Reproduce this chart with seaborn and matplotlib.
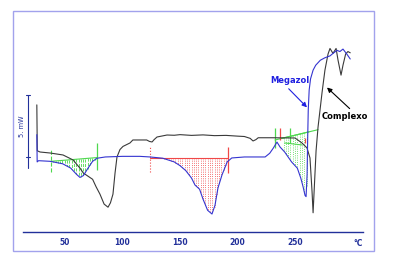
import numpy as np
import matplotlib
matplotlib.use("Agg")
import matplotlib.pyplot as plt
from matplotlib.patches import Rectangle
import seaborn as sns

# DSC curves (temperature in degC, heat flow in mW, zero = scale bar foot)
mega_T = [25.5, 25.8, 27, 37, 48, 55, 60, 63, 66, 70, 74, 78, 85, 100, 115, 124,
          135, 145, 150, 155, 160, 163, 167, 170, 174, 177.8, 180.4, 183, 186.5,
          191, 195, 206, 224, 228, 231, 234.3, 237, 241, 247, 252, 255, 257,
          258.7, 259.6, 260.5, 261, 261.5, 262.3, 263.5, 265.7, 268, 272, 276,
          280.4, 283, 286.5, 289, 291.7, 295, 298]
mega_mW = [1.8, -0.4, -0.3, -0.35, -0.55, -0.9, -1.4, -1.65, -1.5, -0.9, -0.35,
           -0.1, 0.0, 0.05, 0.05, 0.0, -0.1, -0.4, -0.7, -1.1, -1.7, -2.26, -2.6,
           -3.4, -4.3, -4.6, -3.9, -2.5, -1.45, -0.4, -0.08, 0.0, 0.0, 0.3, 0.7,
           1.2, 0.8, 0.4, -0.4, -0.9, -1.7, -2.4, -3.1, -3.2, -1.4, 1.5, 3.8,
           5.4, 6.3, 7.0, 7.4, 7.8, 8.0, 8.15, 8.35, 8.6, 8.5, 8.7, 8.3, 7.9]

cplx_T = [25.5, 25.9, 28.3, 37, 48.3, 57, 63, 66, 70, 74, 77, 80.4, 84, 87.4,
          89.5, 91.7, 93.5, 95.2, 97.8, 100.4, 106.5, 109, 121, 123.5, 125.7,
          127.5, 130, 138.7, 145, 150, 160, 170, 180, 190, 200, 206, 211, 213.5,
          216, 218, 230, 250, 256, 260.4, 263, 264.8, 265.7, 267, 268.3, 270,
          273.5, 276, 278.7, 280.4, 283, 285.7, 287.4, 290, 291.7, 294, 296, 298]
cplx_mW = [4.2, 0.5, 0.4, 0.32, 0.16, -0.24, -0.9, -1.3, -1.55, -1.8, -2.4, -3.0,
           -3.8, -4.05, -3.7, -3.0, -1.3, 0.0, 0.6, 0.85, 1.13, 1.37, 1.37, 1.25,
           1.21, 1.4, 1.61, 1.77, 1.75, 1.8, 1.74, 1.78, 1.72, 1.74, 1.68, 1.65,
           1.5, 1.29, 1.4, 1.55, 1.55, 1.53, 1.13, 0.73, -0.08, -2.8, -4.5, -2.0,
           0.5, 2.4, 5.2, 7.0, 8.3, 8.75, 8.35, 8.75, 7.8, 6.6, 7.4, 8.3, 8.5, 8.4]

# integration limits
peak1 = [37.8, 77.8]
peak1_base = [-0.35, -0.05]
peak2 = [124.0, 191.7]
peak2_base = [-0.08, -0.08]
peak3 = [232.6, 270.0]
peak3_base = [1.37, 2.2]

ticks = [50, 100, 150, 200, 250, 300]
tick_labels = ["50", "100", "150", "200", "250", ""]

navy = "#22309a"
blue = "#3434d0"
green = "#4ed84e"
red = "#f04848"

sns.set_style("white")
fig = plt.figure(figsize=(3.95, 2.59), dpi=100)
fig.patch.set_facecolor("white")
ax = fig.add_axes([23 / 395, 27 / 259, 340 / 395, 221 / 259])
ax.set_xlim(13.48, 309.1)
ax.set_ylim(-6.05, 11.77)

# hatched areas
def hatch(lims, base, T, y, color, step=2.0, ls=":"):
    xs = np.arange(lims[0] + step, lims[1], step)
    yb = np.interp(xs, lims, base)
    yc = np.interp(xs, T, y)
    ax.vlines(xs, yb, yc, colors=color, linewidth=0.6, linestyles=ls)
    ax.plot(lims, base, color=color, lw=0.8)

hatch(peak1, peak1_base, mega_T, mega_mW, green, ls="--")
hatch(peak2, peak2_base, mega_T, mega_mW, red)
hatch([238, 262], np.interp([238, 262], peak3, peak3_base), mega_T, mega_mW, green)
ax.plot(peak3, peak3_base, color=green, lw=0.8)
ax.plot([241, 256], [1.13, 0.97], color=green, lw=0.8)

ax.vlines(peak1[0], -1.2, 0.56, colors=green, lw=0.8, linestyles="--")
ax.vlines(peak1[1], -1.05, 1.13, colors=green, lw=0.9)
ax.vlines(peak2[0], -1.21, 0.81, colors=red, lw=0.8, linestyles=":")
ax.vlines(peak2[1], -1.29, 0.81, colors=red, lw=0.9)
ax.vlines(peak3[0], 0.73, 2.34, colors=green, lw=0.9)
ax.vlines(237.0, 1.37, 2.34, colors=red, lw=0.9)
ax.vlines(245.7, 1.13, 2.34, colors=green, lw=0.9)
ax.vlines(259.0, 1.1, 1.55, colors=red, lw=0.9)

sns.lineplot(x=cplx_T, y=cplx_mW, ax=ax, sort=False, estimator=None,
             color="#3a3a3a", linewidth=0.8)
sns.lineplot(x=mega_T, y=mega_mW, ax=ax, sort=False, estimator=None,
             color=blue, linewidth=0.8)

# scale bar
ax.plot([17.8, 17.8], [-0.9, 5.0], color=navy, lw=0.8)
ax.plot([16.4, 19.2], [5.0, 5.0], color=navy, lw=0.8)
ax.plot([16.4, 19.2], [0.0, 0.0], color=navy, lw=0.8)
ax.text(12.4, 2.5, "5. mW", rotation=90, fontsize=4.8, color=navy,
        ha="center", va="center")

# labels with arrows
ax.annotate("", xy=(260.4, 4.0), xytext=(244.5, 5.5),
            arrowprops=dict(arrowstyle="-|>", color="#2020e0", lw=0.8,
                            mutation_scale=7, shrinkA=0, shrinkB=0))
ax.text(245.7, 6.2, "Megazol", color="#2020e0", fontsize=6, fontweight="bold",
        ha="center", va="center")
ax.annotate("", xy=(277.8, 5.6), xytext=(297.5, 3.9),
            arrowprops=dict(arrowstyle="-|>", color="black", lw=0.8,
                            mutation_scale=7, shrinkA=0, shrinkB=0))
ax.text(293.5, 3.3, "Complexo", color="black", fontsize=6, fontweight="bold",
        ha="center", va="center")

# x axis
for s in ["top", "right", "left"]:
    ax.spines[s].set_visible(False)
ax.spines["bottom"].set_color(navy)
ax.spines["bottom"].set_linewidth(1.0)
ax.set_yticks([])
ax.set_xticks(ticks)
ax.set_xticklabels(tick_labels)
ax.set_xticks(range(20, 310, 10), minor=True)
ax.tick_params(axis="x", which="major", direction="in", length=3.5, width=0.8,
               colors=navy, labelsize=5.5, pad=4)
ax.tick_params(axis="x", which="minor", direction="in", length=2, width=0.6,
               colors=navy)
for lbl in ax.get_xticklabels():
    lbl.set_fontweight("bold")
ax.text(305, -6.05, "°C", transform=ax.transData, fontsize=5.5, color=navy,
        fontweight="bold", ha="center", va="top",
        bbox=dict(alpha=0), clip_on=False).set_y(-6.6)
ax.set_xlabel("")
ax.set_ylabel("")
ax.set_facecolor("none")

fig.add_artist(Rectangle((13 / 395, 8 / 259), 361 / 395, 240 / 259,
                         transform=fig.transFigure, fill=False,
                         edgecolor="#a2a2ec", lw=1.0))

fig.savefig("out.png", dpi=100)
plt.close(fig)
